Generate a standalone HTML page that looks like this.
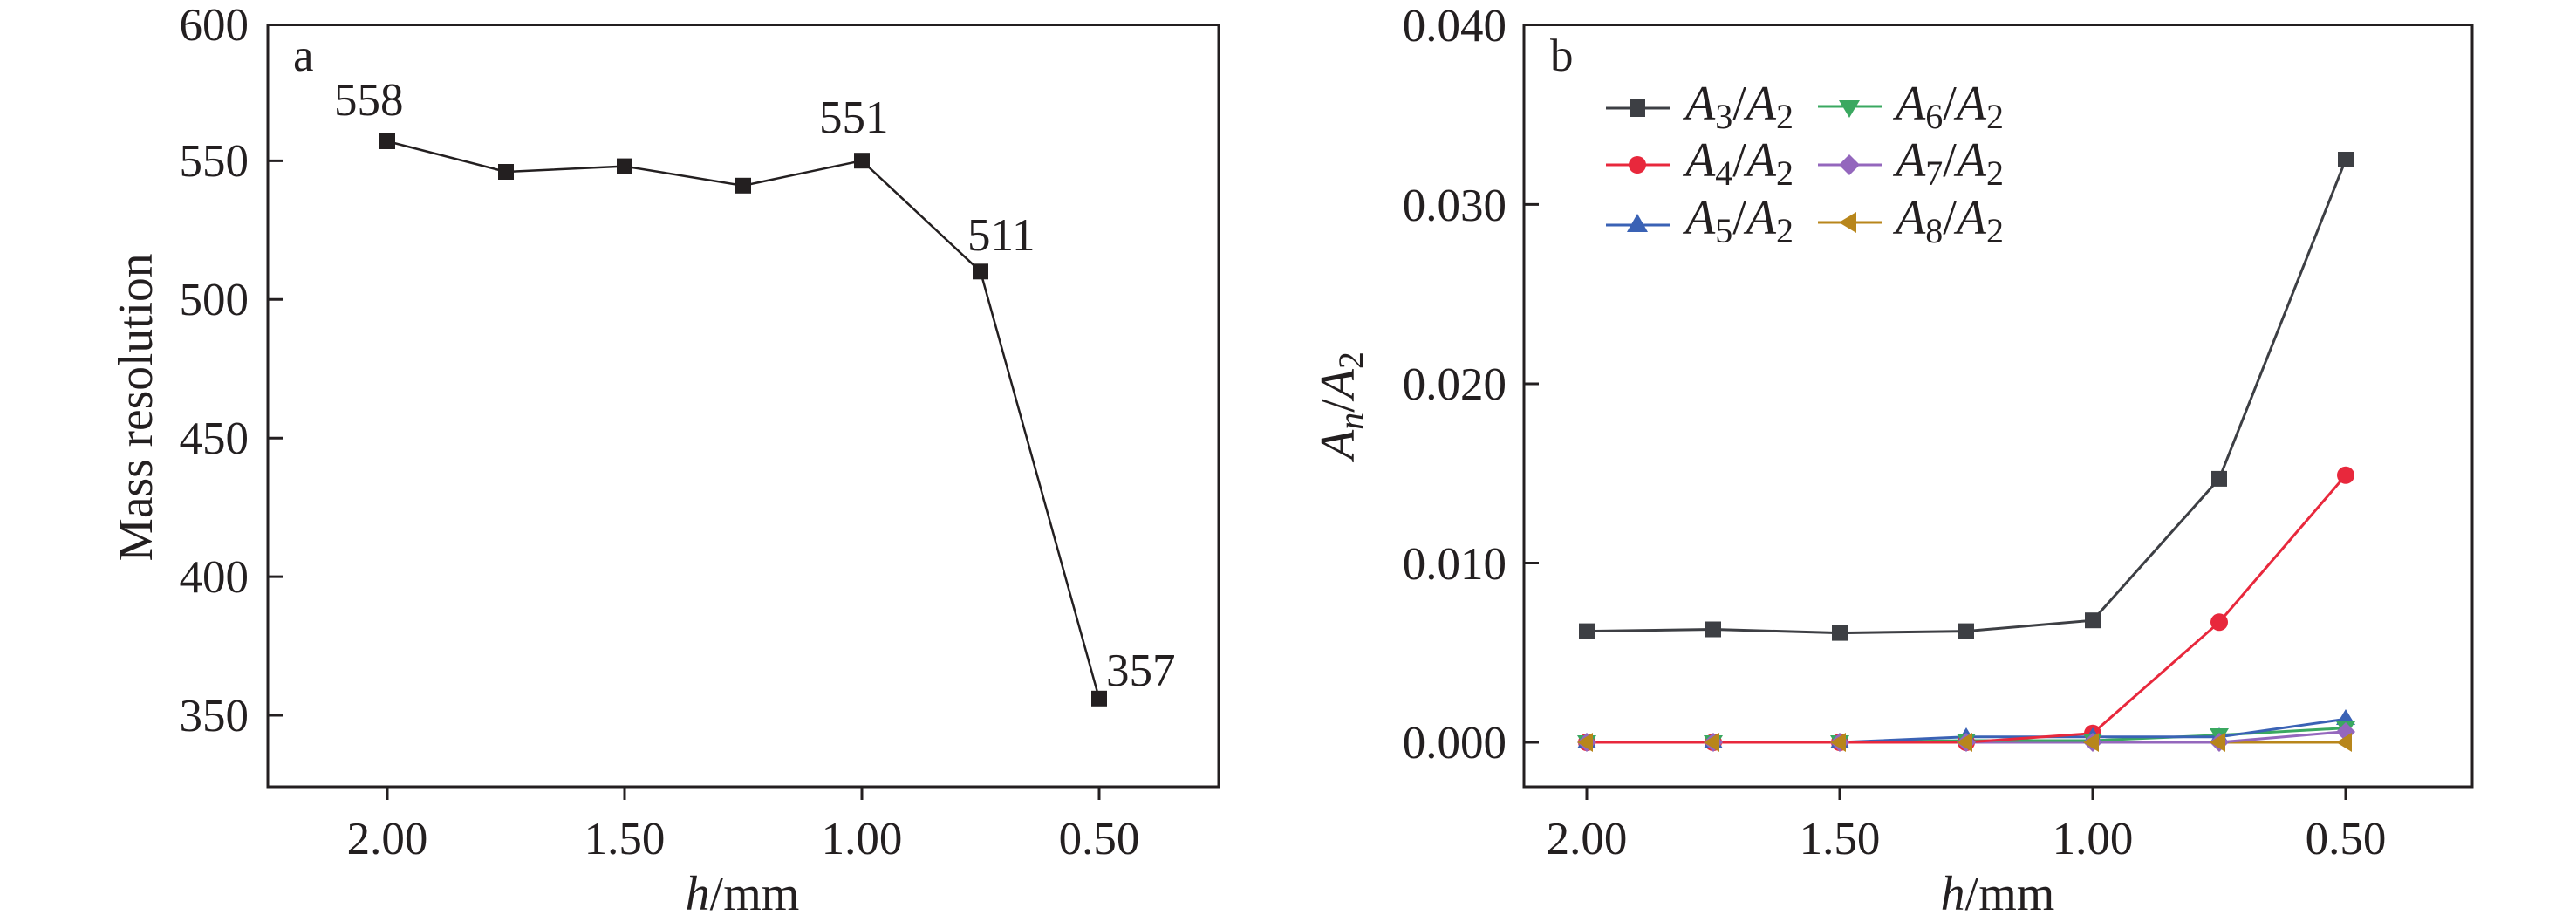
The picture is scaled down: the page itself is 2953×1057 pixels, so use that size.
<!DOCTYPE html>
<html><head><meta charset="utf-8"><style>
html,body{margin:0;padding:0;background:#fff;}
svg{display:block;}
text{font-family:"Liberation Serif",serif;fill:#231f20;}
</style></head><body>
<svg width="2953" height="1057" viewBox="0 0 2953 1057" xmlns="http://www.w3.org/2000/svg">
<!-- Panel a -->
<g stroke="#231f20" stroke-width="3" fill="none">
<rect x="307" y="28.5" width="1090" height="873.5"/>
<path d="M307 184.4h17M307 343.3h17M307 502.2h17M307 661.1h17M307 820h17"/>
<path d="M444 902v15M716 902v15M988 902v15M1260 902v15"/>
<polyline stroke-width="2.5" points="444,162 580,197 716,190.6 852,212.8 988,184.2 1124,311.3 1260,800.8"/>
</g>
<g fill="#231f20">
<rect x="435" y="153" width="18" height="18"/><rect x="571" y="188" width="18" height="18"/>
<rect x="707" y="181.6" width="18" height="18"/><rect x="843" y="203.8" width="18" height="18"/>
<rect x="979" y="175.2" width="18" height="18"/><rect x="1115" y="302.3" width="18" height="18"/>
<rect x="1251" y="791.8" width="18" height="18"/>
</g>
<g font-size="53" text-anchor="end">
<text x="285" y="46">600</text><text x="285" y="202">550</text><text x="285" y="361">500</text>
<text x="285" y="520">450</text><text x="285" y="679">400</text><text x="285" y="838">350</text>
</g>
<g font-size="53" text-anchor="middle">
<text x="444" y="979">2.00</text><text x="716" y="979">1.50</text><text x="988" y="979">1.00</text><text x="1260" y="979">0.50</text>
</g>
<g font-size="53">
<text x="383" y="132">558</text><text x="939" y="152">551</text><text x="1109" y="287">511</text><text x="1268" y="786">357</text>
<text x="336" y="81">a</text>
</g>
<text x="851" y="1043" font-size="56" text-anchor="middle"><tspan font-style="italic">h</tspan>/mm</text>
<text transform="translate(174,467) rotate(-90)" font-size="56" text-anchor="middle" textLength="353" lengthAdjust="spacingAndGlyphs">Mass resolution</text>

<!-- Panel b -->
<g stroke="#231f20" stroke-width="3" fill="none">
<rect x="1747" y="28.5" width="1087" height="873.5"/>
<path d="M1747 234.4h17M1747 440h17M1747 645.5h17M1747 851h17"/>
<path d="M1819 902v15M2109 902v15M2399 902v15M2689 902v15"/>
</g>
<g fill="none" stroke-width="3">
<polyline stroke="#b8861b" points="1819,851 1964,851 2109,851 2254,851 2399,851 2544,851 2689,851"/>
<polyline stroke="#9467bd" points="1819,851 1964,851 2109,851 2254,851 2399,851 2544,851 2689,838.7"/>
<polyline stroke="#3aa860" points="1819,851 1964,851 2109,851 2254,849 2399,849 2544,842.8 2689,834.6"/>
<polyline stroke="#3a62b5" points="1819,851 1964,851 2109,851 2254,844.8 2399,844.8 2544,844.8 2689,824.3"/>
<polyline stroke="#e8283c" points="1819,851 1964,851 2109,851 2254,851 2399,840.7 2544,713.3 2689,544.8"/>
<polyline stroke="#3d3f44" points="1819,723.6 1964,721.5 2109,725.6 2254,723.6 2399,711.2 2544,548.9 2689,183"/>
</g>
<g fill="#3d3f44">
<rect x="1810" y="714.6" width="18" height="18"/><rect x="1955" y="712.5" width="18" height="18"/>
<rect x="2100" y="716.6" width="18" height="18"/><rect x="2245" y="714.6" width="18" height="18"/>
<rect x="2390" y="702.2" width="18" height="18"/><rect x="2535" y="539.9" width="18" height="18"/>
<rect x="2680" y="174" width="18" height="18"/>
</g>
<g fill="#e8283c">
<circle cx="1819" cy="851" r="10"/><circle cx="1964" cy="851" r="10"/><circle cx="2109" cy="851" r="10"/>
<circle cx="2254" cy="851" r="10"/><circle cx="2399" cy="840.7" r="10"/><circle cx="2544" cy="713.3" r="10"/><circle cx="2689" cy="544.8" r="10"/>
</g>
<g fill="#3a62b5">
<path d="M1819 840l11 18h-22z M1964 840l11 18h-22z M2109 840l11 18h-22z M2254 834l11 18h-22z M2399 834l11 18h-22z M2544 834l11 18h-22z M2689 813l11 18h-22z"/>
</g>
<g fill="#3aa860">
<path d="M1819 861l11-18h-22z M1964 861l11-18h-22z M2109 861l11-18h-22z M2254 859l11-18h-22z M2399 859l11-18h-22z M2544 853l11-18h-22z M2689 845l11-18h-22z"/>
</g>
<g fill="#9467bd">
<path d="M1819 840l11 11-11 11-11-11z M1964 840l11 11-11 11-11-11z M2109 840l11 11-11 11-11-11z M2254 840l11 11-11 11-11-11z M2399 840l11 11-11 11-11-11z M2544 840l11 11-11 11-11-11z M2689 828l11 11-11 11-11-11z"/>
</g>
<g fill="#b8861b">
<path d="M1808 851l18-11v22z M1953 851l18-11v22z M2098 851l18-11v22z M2243 851l18-11v22z M2388 851l18-11v22z M2533 851l18-11v22z M2678 851l18-11v22z"/>
</g>
<g font-size="53" text-anchor="end">
<text x="1727" y="47">0.040</text><text x="1727" y="253">0.030</text><text x="1727" y="458">0.020</text>
<text x="1727" y="664">0.010</text><text x="1727" y="869">0.000</text>
</g>
<g font-size="53" text-anchor="middle">
<text x="1819" y="979">2.00</text><text x="2109" y="979">1.50</text><text x="2399" y="979">1.00</text><text x="2689" y="979">0.50</text>
</g>
<text x="1777" y="81" font-size="53">b</text>
<text x="2290" y="1043" font-size="56" text-anchor="middle"><tspan font-style="italic">h</tspan>/mm</text>
<text transform="translate(1552,465) rotate(-90)" font-size="56" text-anchor="middle"><tspan font-style="italic">A</tspan><tspan font-style="italic" font-size="40" dy="10">n</tspan><tspan dy="-10">/</tspan><tspan font-style="italic">A</tspan><tspan font-size="40" dy="10">2</tspan></text>
<!-- legend -->
<g stroke-width="3">
<line x1="1841" y1="124" x2="1914" y2="124" stroke="#3d3f44"/>
<line x1="1841" y1="189" x2="1914" y2="189" stroke="#e8283c"/>
<line x1="1841" y1="258" x2="1914" y2="258" stroke="#3a62b5"/>
<line x1="2084" y1="122" x2="2157" y2="122" stroke="#3aa860"/>
<line x1="2084" y1="189" x2="2157" y2="189" stroke="#9467bd"/>
<line x1="2084" y1="255" x2="2157" y2="255" stroke="#b8861b"/>
</g>
<rect x="1868" y="114" width="18" height="20" fill="#3d3f44"/>
<circle cx="1877" cy="189" r="10" fill="#e8283c"/>
<path d="M1877 245l12 21h-24z" fill="#3a62b5"/>
<path d="M2120 135l12-20h-24z" fill="#3aa860"/>
<path d="M2120 177l12 12-12 12-12-12z" fill="#9467bd"/>
<path d="M2108 255l20-12v24z" fill="#b8861b"/>
<g font-size="56">
<text x="1932" y="137"><tspan font-style="italic">A</tspan><tspan font-size="40" dy="10">3</tspan><tspan dy="-10">/</tspan><tspan font-style="italic">A</tspan><tspan font-size="40" dy="10">2</tspan></text>
<text x="1932" y="202"><tspan font-style="italic">A</tspan><tspan font-size="40" dy="10">4</tspan><tspan dy="-10">/</tspan><tspan font-style="italic">A</tspan><tspan font-size="40" dy="10">2</tspan></text>
<text x="1932" y="268"><tspan font-style="italic">A</tspan><tspan font-size="40" dy="10">5</tspan><tspan dy="-10">/</tspan><tspan font-style="italic">A</tspan><tspan font-size="40" dy="10">2</tspan></text>
<text x="2173" y="137"><tspan font-style="italic">A</tspan><tspan font-size="40" dy="10">6</tspan><tspan dy="-10">/</tspan><tspan font-style="italic">A</tspan><tspan font-size="40" dy="10">2</tspan></text>
<text x="2173" y="202"><tspan font-style="italic">A</tspan><tspan font-size="40" dy="10">7</tspan><tspan dy="-10">/</tspan><tspan font-style="italic">A</tspan><tspan font-size="40" dy="10">2</tspan></text>
<text x="2173" y="268"><tspan font-style="italic">A</tspan><tspan font-size="40" dy="10">8</tspan><tspan dy="-10">/</tspan><tspan font-style="italic">A</tspan><tspan font-size="40" dy="10">2</tspan></text>
</g>
</svg>
</body></html>
